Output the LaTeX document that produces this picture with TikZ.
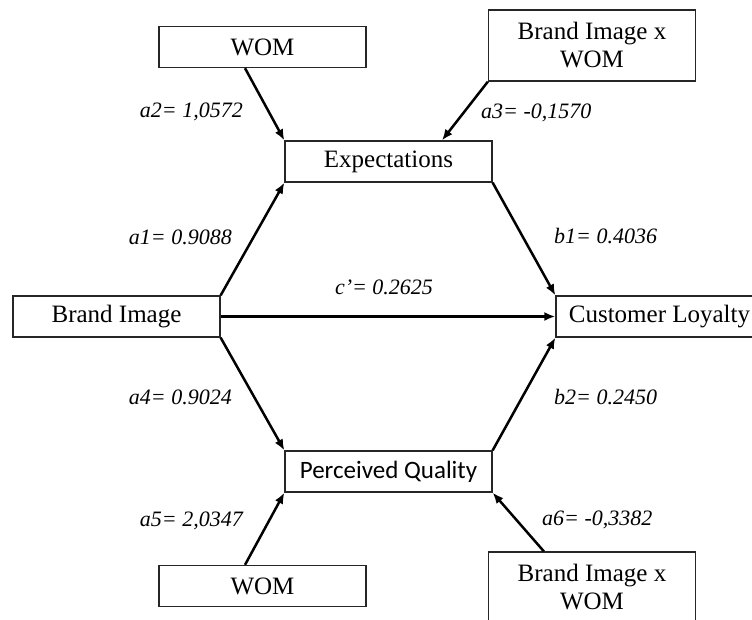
\documentclass[tikz,border=0pt]{standalone}
\usepackage{fontspec}
\setmainfont{Liberation Serif}
\newfontfamily\calibrifont{Carlito}
\usetikzlibrary{arrows.meta}
\tikzset{
  box/.style={draw=black!85, line width=1.3pt, rectangle, minimum width=207pt, minimum height=41pt, inner sep=0pt, align=center, font=\fontsize{25}{28}\selectfont},
  tallbox/.style={box, minimum height=71pt},
  lbl/.style={font=\fontsize{22}{24}\selectfont\itshape, inner sep=0pt},
  arr/.style={line width=2.5pt, -{Latex[length=11pt,width=9pt]}},
}
\begin{document}
\begin{tikzpicture}[x=1pt,y=-1pt]
\clip (0,0) rectangle (752,619);
\fill[white] (0,0) rectangle (752,619);
% nodes
\node[box] (wom1) at (262.5,47) {WOM};
\node[tallbox] (bix1) at (592,45.5) {Brand Image x\\WOM};
\node[box] (exp) at (388.5,161.5) {Expectations};
\node[box] (bi) at (116.5,316.5) {Brand Image};
\node[box] (cl) at (659.5,316.5) {Customer Loyalty};
\node[box, font=\fontsize{25}{28}\selectfont\calibrifont] (pq) at (388.5,471.5) {Perceived Quality};
\node[box] (wom2) at (262.5,586) {WOM};
\node[tallbox] (bix2) at (592,587.5) {Brand Image x\\WOM};
% connectors
\draw[arr] ([xshift=-17.5pt]wom1.south) -- (exp.north west);
\draw[arr] (bix1.south west) -- ([xshift=53.5pt]exp.north);
\draw[arr] (bi.north east) -- (exp.south west);
\draw[arr] (exp.south east) -- (cl.north west);
\draw[arr] (bi.east) -- (cl.west);
\draw[arr] (bi.south east) -- (pq.north west);
\draw[arr] (pq.north east) -- (cl.south west);
\draw[arr] ([xshift=-17.5pt]wom2.north) -- (pq.south west);
\draw[arr] ([xshift=56pt]bix2.north west) -- (pq.south east);
% labels
\node[lbl, anchor=east] (la2) at (243,112) {a2= 1,0572};
\node[lbl, anchor=west] (la3) at (481,113) {a3= -0,1570};
\node[lbl, anchor=east] (la1) at (232,237) {a1= 0.9088};
\node[lbl, anchor=west] (lb1) at (554,236) {b1= 0.4036};
\node[lbl] (lc) at (384,287) {c’= 0.2625};
\node[lbl, anchor=east] (la4) at (232,397) {a4= 0.9024};
\node[lbl, anchor=west] (lb2) at (554,397) {b2= 0.2450};
\node[lbl, anchor=east] (la5) at (243,521) {a5= 2,0347};
\node[lbl, anchor=west] (la6) at (542,520) {a6= -0,3382};
\end{tikzpicture}
\end{document}
